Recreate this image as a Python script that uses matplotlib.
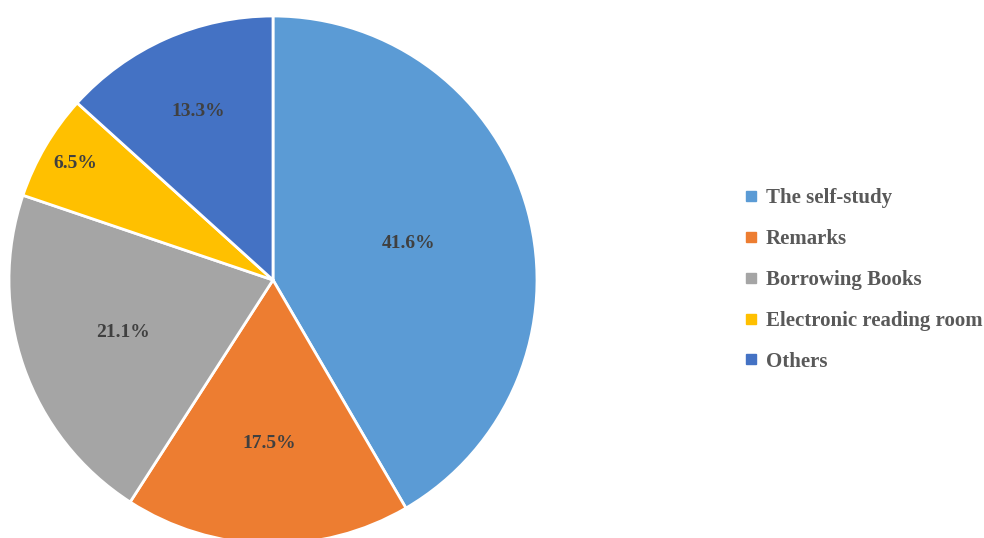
import numpy as np
import matplotlib.pyplot as plt

# ========== data ==========
categories = ["The self-study", "Remarks", "Borrowing Books",
              "Electronic reading room", "Others"]
shares = [41.6, 17.5, 21.1, 6.5, 13.3]
colors = ["#5B9BD5", "#ED7D31", "#A5A5A5", "#FFC000", "#4472C4"]

# radial position of each percent label (fraction of radius)
label_r = [0.53, 0.62, 0.60, 0.87, 0.70]

plt.rcParams["font.family"] = ["Liberation Serif", "DejaVu Serif"]

fig = plt.figure(figsize=(9.84, 5.38), dpi=100)
# pie centre ~ (273, 280) px, radius ~264 px
cx, cy, r = 273, 280, 264
ax = fig.add_axes([(cx - r) / 984, (538 - cy - r) / 538, 2 * r / 984, 2 * r / 538])

wedges, _ = ax.pie(shares, colors=colors, startangle=90, counterclock=False,
                   wedgeprops=dict(edgecolor="white", linewidth=2))
ax.set_xlim(-1, 1)
ax.set_ylim(-1, 1)
ax.set_aspect("equal")
ax.axis("off")

for w, v, d in zip(wedges, shares, label_r):
    ang = np.deg2rad((w.theta1 + w.theta2) / 2)
    ax.text(d * np.cos(ang), d * np.sin(ang), f"{v}%", ha="center", va="center",
            fontsize=14, fontweight="bold", color="#404040")

handles = [plt.Line2D([], [], marker="s", linestyle="", markersize=7,
                      markerfacecolor=c, markeredgecolor=c) for c in colors]
leg = fig.legend(handles, categories, loc="center left",
                 bbox_to_anchor=(744 / 984, 1 - 280 / 538), frameon=False,
                 prop=dict(size=15, weight="bold"), labelspacing=1.0,
                 handlelength=0.7, handletextpad=0.35, borderaxespad=0,
                 borderpad=0)
for t in leg.get_texts():
    t.set_color("#595959")

fig.savefig("out.png", dpi=100)
